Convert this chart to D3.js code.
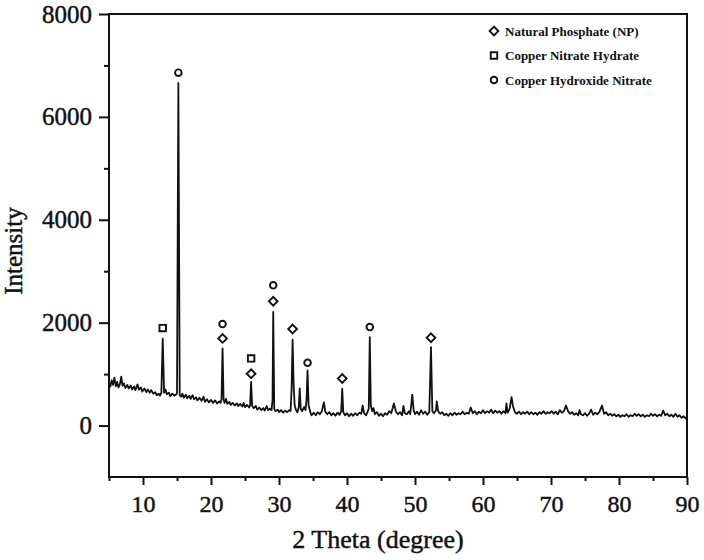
<!DOCTYPE html>
<html><head><meta charset="utf-8">
<script src="https://cdn.jsdelivr.net/npm/d3@7"></script>
<style>body{margin:0;background:#fff}</style>
</head><body>
<svg id="c" width="704" height="560"></svg>
<script>
// XRD scan: [2θ (degree), intensity]
const scan = [
[5.0,820],[5.2,760],[5.4,880],[5.6,790],[5.8,930],[6.0,760],[6.2,850],[6.4,740],[6.6,800],[6.8,950],[7.0,770],[7.2,820],[7.4,730],[7.7,790],[7.9,720],[8.2,780],[8.4,700],[8.7,760],[8.9,690],[9.2,800],[9.4,700],[9.7,740],[9.9,660],[10.2,720],[10.5,650],[10.7,700],[11.0,640],[11.2,690],[11.5,620],[11.8,650],[12.0,590],[12.3,620],[12.5,580],
[12.7,640],[12.9,1690],[13.1,640],[13.3,700],[13.5,610],[13.8,640],[14.0,570],[14.3,620],[14.6,580],[14.8,600],
[15.0,620],[15.2,6660],[15.4,590],[15.6,560],[15.8,620],[16.0,540],[16.3,600],[16.5,530],[16.8,580],[17.0,520],[17.3,590],[17.5,510],[17.8,550],[18.0,490],[18.3,540],[18.6,480],[18.9,560],[19.1,460],[19.4,510],[19.7,450],[20.0,500],[20.3,440],[20.6,490],[20.9,430],[21.2,470],[21.4,440],
[21.55,520],[21.7,1500],[21.85,500],[22.0,440],[22.2,520],[22.4,420],[22.7,460],[22.9,400],[23.2,440],[23.5,390],[23.8,430],[24.0,380],[24.3,420],[24.6,370],[24.8,440],[25.0,360],[25.3,400],[25.6,350],
[25.75,400],[25.9,850],[26.05,380],[26.3,340],[26.6,380],[26.8,310],[27.1,350],[27.4,300],[27.7,340],[27.9,290],[28.2,380],[28.4,300],[28.7,330],[28.9,300],
[29.05,500],[29.15,2210],[29.3,320],[29.5,280],[29.8,310],[30.0,260],[30.3,300],[30.6,250],[30.9,290],[31.2,260],[31.5,300],[31.7,280],
[31.85,700],[32.0,1670],[32.15,800],[32.3,400],[32.5,300],[32.7,260],[32.9,350],[33.05,720],[33.2,320],[33.4,280],[33.7,360],[33.9,300],
[34.05,500],[34.2,1070],[34.35,400],[34.6,260],[34.8,200],[35.1,250],[35.4,200],[35.7,260],[36.0,220],[36.3,280],[36.6,450],[36.8,270],[37.1,220],[37.4,260],[37.7,200],[38.0,240],[38.3,190],[38.6,250],[38.9,210],[39.15,280],
[39.3,715],[39.45,260],[39.7,200],[40.0,240],[40.3,180],[40.6,230],[40.9,190],[41.2,240],[41.5,200],[41.8,250],[42.1,230],[42.3,390],[42.5,240],[42.8,200],[43.0,260],[43.2,330],
[43.35,1720],[43.5,400],[43.7,280],[43.9,340],[44.1,220],[44.4,260],[44.7,190],[45.0,230],[45.3,180],[45.6,240],[45.9,210],[46.2,280],[46.5,240],[46.9,430],[47.2,270],[47.5,220],[47.8,260],[48.1,200],[48.3,380],[48.5,240],[48.8,220],[49.1,280],[49.3,220],[49.6,600],[49.8,300],[50.0,220],[50.3,270],[50.6,210],[50.9,300],[51.2,230],[51.5,270],[51.8,210],[52.1,260],
[52.35,1525],[52.55,280],[52.8,240],[53.1,300],[53.2,470],[53.4,280],[53.7,230],[54.0,260],[54.3,200],[54.6,230],[54.9,190],[55.2,240],[55.5,200],[55.8,250],[56.1,210],[56.4,240],[56.7,220],[57.0,270],[57.3,220],[57.6,250],[57.9,230],[58.2,350],[58.5,240],[58.8,280],[59.1,220],[59.4,270],[59.7,240],[60.0,300],[60.3,240],[60.6,280],[60.9,250],[61.2,310],[61.5,240],[61.8,290],[62.1,250],[62.4,280],[62.7,230],[63.0,280],[63.3,240],[63.45,430],[63.6,250],[63.9,320],[64.2,550],[64.4,380],[64.7,260],[65.0,230],[65.3,270],[65.6,220],[65.9,260],[66.2,230],[66.5,270],[66.8,220],[67.1,260],[67.4,220],[67.7,250],[68.0,210],[68.3,260],[68.6,230],[68.9,280],[69.2,230],[69.5,260],[69.8,240],[70.1,280],[70.4,230],[70.7,270],[71.0,220],[71.3,300],[71.6,250],[71.9,280],[72.2,390],[72.5,280],[72.8,230],[73.1,260],[73.4,210],[73.7,240],[74.0,200],[74.2,300],[74.4,220],[74.7,200],[75.0,240],[75.3,190],[75.6,230],[75.9,310],[76.2,210],[76.5,250],[76.8,220],[77.1,260],[77.5,390],[77.8,230],[78.1,260],[78.4,200],[78.7,230],[79.0,190],[79.3,220],[79.6,180],[79.9,210],[80.2,170],[80.5,200],[80.8,180],[81.1,220],[81.4,170],[81.7,200],[82.0,180],[82.3,230],[82.6,190],[82.9,220],[83.2,180],[83.5,210],[83.8,170],[84.1,200],[84.4,180],[84.7,230],[85.0,190],[85.3,220],[85.6,180],[85.9,210],[86.2,190],[86.5,290],[86.8,200],[87.1,230],[87.4,180],[87.7,210],[88.0,170],[88.3,230],[88.6,170],[88.9,200],[89.2,150],[89.5,180],[89.8,140],[90.0,170]
];

// Phase markers above peaks
const markerTheta     = [12.9, 15.2, 21.7, 21.7, 25.9, 25.9, 29.15, 29.15, 32.0, 34.2, 39.3, 43.35, 52.35];
const markerIntensity = [1895, 6860, 1694, 1973, 1305, 1007, 2726, 2415, 1876, 1221, 915, 1915, 1708];
const markerPhase     = ["square","circle","diamond","circle","square","diamond","circle","diamond","diamond","circle","diamond","circle","diamond"];

// Legend
const legendLabels = ["Natural Phosphate (NP)", "Copper Nitrate Hydrate", "Copper Hydroxide Nitrate"];
const legendShapes = ["diamond", "square", "circle"];

// Axes ticks
const xMajor = [10,20,30,40,50,60,70,80,90];
const xMinor = [5,15,25,35,45,55,65,75,85];
const yMajor = [0,2000,4000,6000,8000];
const yMinor = [1000,3000,5000,7000];

const W = 704, H = 560;
const x = d3.scaleLinear().domain([5, 90]).range([109, 687]);
const y = d3.scaleLinear().domain([-1000, 8000]).range([477, 14]);
const svg = d3.select("#c");
svg.append("rect").attr("width", W).attr("height", H).attr("fill", "#fff");

const FONT = "'Liberation Serif','Times New Roman',serif";
const heavy = s => s.attr("fill", "#111").attr("stroke", "#111").attr("stroke-width", 0.45)
  .style("font-family", FONT);

// Minor ticks
svg.append("g").attr("transform", `translate(0,${y(-1000)})`)
  .call(d3.axisBottom(x).tickValues(xMinor).tickSize(4).tickSizeOuter(0).tickFormat(""))
  .call(g => g.select(".domain").remove())
  .call(g => g.selectAll("line").attr("stroke", "#111").attr("stroke-width", 2));
svg.append("g").attr("transform", `translate(${x(5)},0)`)
  .call(d3.axisLeft(y).tickValues(yMinor).tickSize(5).tickSizeOuter(0).tickFormat(""))
  .call(g => g.select(".domain").remove())
  .call(g => g.selectAll("line").attr("stroke", "#111").attr("stroke-width", 2));

// Major ticks
svg.append("g").attr("transform", `translate(0,${y(-1000)})`)
  .call(d3.axisBottom(x).tickValues(xMajor).tickSize(8).tickSizeOuter(0).tickPadding(10).tickFormat(d3.format("d")))
  .call(g => g.select(".domain").remove())
  .call(g => g.selectAll("line").attr("stroke", "#111").attr("stroke-width", 2))
  .call(g => heavy(g.selectAll("text")).style("font-size", "24px"));
svg.append("g").attr("transform", `translate(${x(5)},0)`)
  .call(d3.axisLeft(y).tickValues(yMajor).tickSize(10).tickSizeOuter(0).tickPadding(7).tickFormat(d3.format("d")))
  .call(g => g.select(".domain").remove())
  .call(g => g.selectAll("line").attr("stroke", "#111").attr("stroke-width", 2))
  .call(g => heavy(g.selectAll("text")).style("font-size", "25px"));

// Frame
svg.append("rect")
  .attr("x", x(5)).attr("y", y(8000))
  .attr("width", x(90) - x(5)).attr("height", y(-1000) - y(8000))
  .attr("fill", "none").attr("stroke", "#111").attr("stroke-width", 2);

// Curve
const line = d3.line().x(d => x(d[0])).y(d => y(d[1]));
svg.append("path").datum(scan)
  .attr("d", line).attr("fill", "none").attr("stroke", "#111")
  .attr("stroke-width", 1.8).attr("stroke-linejoin", "round");

// Symbols
const shapeGen = {
  square: d3.symbol().type(d3.symbolSquare).size(42),
  diamond: d3.symbol().type(d3.symbolSquare).size(38),
  circle: d3.symbol().type(d3.symbolCircle).size(34)
};
function drawSymbol(g, shape, cx, cy) {
  g.append("path")
    .attr("d", shapeGen[shape]())
    .attr("transform", `translate(${cx},${cy})` + (shape === "diamond" ? " rotate(45)" : ""))
    .attr("fill", "#fff").attr("stroke", "#111").attr("stroke-width", 1.9);
}
const mk = svg.append("g");
markerTheta.forEach((t, i) => drawSymbol(mk, markerPhase[i], x(t), y(markerIntensity[i])));

// Legend
const lg = svg.append("g");
legendLabels.forEach((lab, i) => {
  const cy = 31 + i * 24.5;
  drawSymbol(lg, legendShapes[i], 494, cy);
  lg.append("text").attr("x", 505).attr("y", cy + 4.5)
    .attr("fill", "#111").style("font-family", FONT).style("font-size", "13px")
    .style("font-weight", "bold").text(lab);
});

// Axis titles
heavy(svg.append("text").attr("x", 378).attr("y", 548).attr("text-anchor", "middle"))
  .style("font-size", "26px").text("2 Theta (degree)");
heavy(svg.append("text").attr("transform", "translate(22,251) rotate(-90)").attr("text-anchor", "middle"))
  .style("font-size", "25px").text("Intensity");
</script>
</body></html>
